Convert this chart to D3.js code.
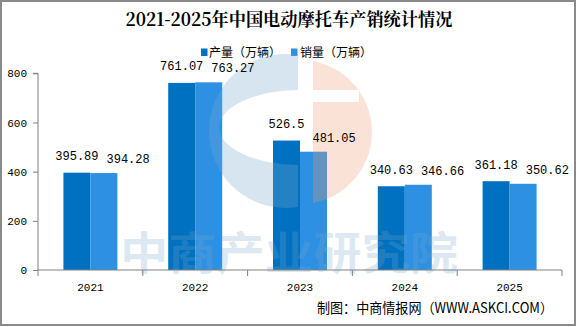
<!DOCTYPE html>
<html>
<head>
<meta charset="utf-8">
<script src="https://cdn.jsdelivr.net/npm/d3@7/dist/d3.min.js"></script>
<style>
html,body{margin:0;padding:0;background:#fff;}
svg{display:block;}
</style>
</head>
<body>
<svg id="chart" width="581" height="327"></svg>
<script>
const title = "2021-2025年中国电动摩托车产销统计情况";
const years = ["2021","2022","2023","2024","2025"];
const seriesNames = ["产量（万辆）","销量（万辆）"];
const production = [395.89, 761.07, 526.5, 340.63, 361.18];
const sales = [394.28, 763.27, 481.05, 346.66, 350.62];
const yTicks = [0, 200, 400, 600, 800];
const source = "制图：中商情报网（WWW.ASKCI.COM）";
const watermark = "中商产业研究院";

const colors = ["#0070C0", "#2E90E2"];
const values = [production, sales];

const svg = d3.select("#chart");
const defs = svg.append("defs");

// frame
svg.append("rect").attr("x",1).attr("y",1).attr("width",574).attr("height",324)
  .attr("fill","#fff").attr("stroke","#8a8a8a").attr("stroke-width",2);

const plotL = 38, plotR = 562, plotT = 73.3, plotB = 270;
const x0 = d3.scaleBand().domain(years).range([plotL, plotR]).padding(0);
const bw = x0.bandwidth();
const x1 = d3.scaleBand().domain([0,1]).range([bw*0.2425, bw*0.7575]).padding(0);
const y = d3.scaleLinear().domain([0, 800]).range([plotB, plotT]);

// title
svg.append("text").attr("x", 289).attr("y", 26)
  .attr("text-anchor","middle")
  .attr("font-family","'Noto Serif CJK SC','Noto Sans CJK SC',serif")
  .attr("font-weight","bold").attr("font-size",18)
  .attr("textLength",327).attr("lengthAdjust","spacingAndGlyphs")
  .attr("fill","#000").text(title);

// legend
const legendItems = [{x:201, tx:209},{x:291, tx:300}];
seriesNames.forEach((n,i)=>{
  svg.append("rect").attr("x",legendItems[i].x).attr("y",48.5).attr("width",6.5).attr("height",7.5).attr("fill",colors[i]);
  svg.append("text").attr("x",legendItems[i].tx).attr("y",57)
    .attr("font-family","'Noto Sans CJK SC',sans-serif").attr("font-size",12)
    .attr("fill","#000").text(n);
});

// bars
const g = svg.append("g");
years.forEach((yr, i) => {
  [0,1].forEach(s => {
    const v = values[s][i];
    g.append("rect")
      .attr("x", x0(yr) + x1(s))
      .attr("y", y(v))
      .attr("width", x1.bandwidth())
      .attr("height", y(0) - y(v))
      .attr("fill", colors[s]);
  });
});

// watermark (semi-transparent overlay)
const wm = svg.append("g").attr("pointer-events","none");
defs.append("clipPath").attr("id","clipBlue").append("rect").attr("x",0).attr("y",0).attr("width",298).attr("height",327);
defs.append("clipPath").attr("id","clipPeach").append("rect").attr("x",313).attr("y",0).attr("width",268).attr("height",327);
function circlePath(cx,cy,r){return `M${cx-r},${cy}a${r},${r} 0 1,0 ${2*r},0a${r},${r} 0 1,0 ${-2*r},0Z`;}
function ellipsePath(cx,cy,rx,ry){return `M${cx-rx},${cy}a${rx},${ry} 0 1,0 ${2*rx},0a${rx},${ry} 0 1,0 ${-2*rx},0Z`;}
wm.append("path").attr("d", circlePath(286,131,77) + ellipsePath(300,127.5,81,37.5))
  .attr("fill-rule","evenodd").attr("clip-path","url(#clipBlue)")
  .attr("fill","rgb(120,170,205)").attr("fill-opacity",0.3);
wm.append("path").attr("d", circlePath(300,132,72) + "M313,90h46v12h-46Z")
  .attr("fill-rule","evenodd").attr("clip-path","url(#clipPeach)")
  .attr("fill","rgb(240,150,110)").attr("fill-opacity",0.28);
wm.append("text").attr("x",120).attr("y",270)
  .attr("font-family","'Noto Sans CJK SC',sans-serif").attr("font-weight","bold")
  .attr("font-size",45).attr("textLength",338).attr("lengthAdjust","spacingAndGlyphs")
  .attr("fill","rgb(120,170,205)").attr("fill-opacity",0.26).text(watermark);

// data labels (second-series label nudged right when it would collide)
const labelFont = "'Liberation Mono','DejaVu Sans Mono',monospace";
years.forEach((yr, i) => {
  const c0 = x0(yr) + x1(0) + x1.bandwidth()/2;
  const c1 = x0(yr) + x1(1) + x1.bandwidth()/2;
  const t0 = svg.append("text")
    .attr("x", c0).attr("y", y(production[i]) - 12.5)
    .attr("text-anchor","middle")
    .attr("font-family",labelFont).attr("font-size",12).attr("fill","#000")
    .text(String(production[i]));
  const b0 = t0.node().getBBox();
  const t1 = svg.append("text")
    .attr("y", y(sales[i]) - 10)
    .attr("text-anchor","start")
    .attr("font-family",labelFont).attr("font-size",12).attr("fill","#000")
    .text(String(sales[i]));
  const w1 = t1.node().getComputedTextLength();
  t1.attr("x", Math.max(c1 - w1/2, b0.x + b0.width + 8));
});

// axes
const yAxis = d3.axisLeft(y).tickValues(yTicks).tickSize(5).tickPadding(6).tickFormat(d3.format("d"));
const ya = svg.append("g").attr("transform",`translate(${plotL},0)`).call(yAxis);
ya.select(".domain").attr("stroke","#808080").attr("d",`M-5,${plotT}H0V${plotB}`);
ya.selectAll(".tick line").attr("stroke","#808080");
ya.selectAll(".tick text").attr("font-family",labelFont).attr("font-size",11).attr("fill","#000");

const xAxis = d3.axisBottom(x0).tickSize(0).tickPadding(13);
const xa = svg.append("g").attr("transform",`translate(0,${plotB})`).call(xAxis);
xa.select(".domain").attr("stroke","#808080").attr("d",`M${plotL},0H${plotR}`);
xa.selectAll(".tick text").attr("font-family",labelFont).attr("font-size",11).attr("fill","#000");
xa.selectAll(".bnd").data(years.map(d=>x0(d)).concat([plotR])).enter().append("line")
  .attr("x1",d=>d).attr("x2",d=>d).attr("y1",0).attr("y2",6).attr("stroke","#808080");

// source
svg.append("text").attr("x",317).attr("y",313)
  .attr("font-family","'Noto Sans CJK SC',sans-serif").attr("font-size",14)
  .attr("textLength",236).attr("lengthAdjust","spacingAndGlyphs")
  .attr("fill","#000").text(source);
</script>
</body>
</html>
